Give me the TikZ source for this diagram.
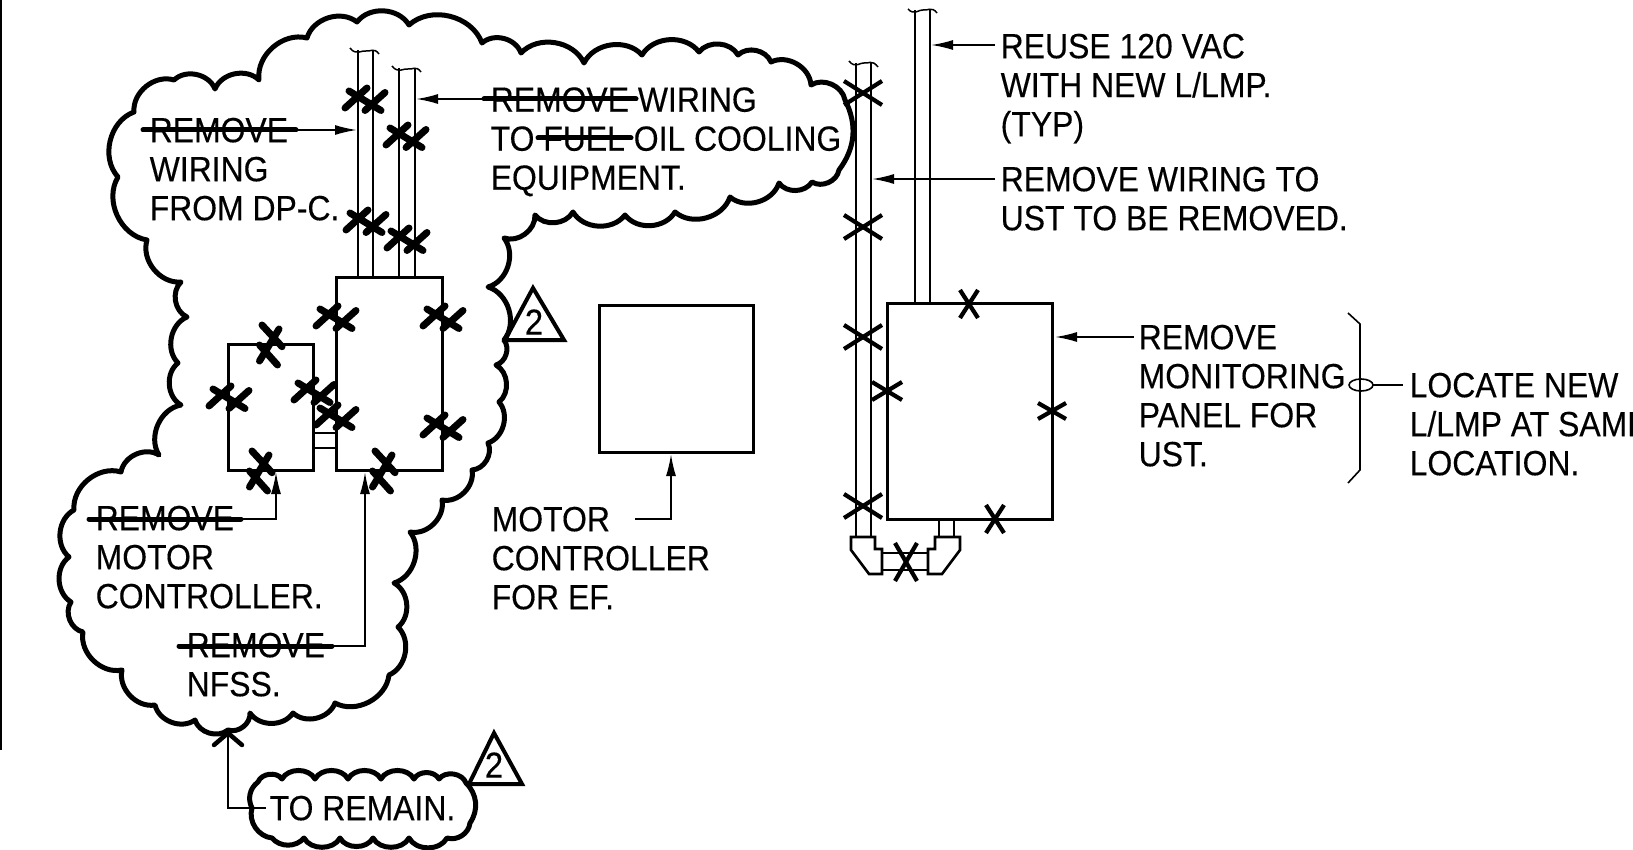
\documentclass[tikz,border=0pt]{standalone}
\usepackage{fontspec}
\setmainfont[FakeStretch=0.912,FakeBold=0.3]{Liberation Sans}
\usetikzlibrary{arrows.meta,calc}
\newcommand{\FL}{\rule{0pt}{26pt}}
% hatched removal mark, shallow form
\newcommand{\hmarkH}[2]{\begin{scope}[shift={(#1,#2)}]
 \draw[hatch] (-19,8)--(3,-12); \draw[hatch] (1,10.5)--(21,-7.5); \draw[hatch] (-15,-9)--(17,10.5);
\end{scope}}
% hatched removal mark, steep form
\newcommand{\hmarkV}[2]{\begin{scope}[shift={(#1,#2)}]
 \draw[hatch] (-8,-19)--(12,2.7); \draw[hatch] (-10.5,1)--(7.5,21); \draw[hatch] (9,-15)--(-10.5,17);
\end{scope}}
% plain X: centre x, y, half-width, half-height
\newcommand{\xmark}[4]{\draw[xstroke] ($(#1,#2)+(-#3,-#4)$)--($(#1,#2)+(#3,#4)$); \draw[xstroke] ($(#1,#2)+(-#3,#4)$)--($(#1,#2)+(#3,-#4)$);}
\tikzset{
 cloud/.style={line width=5pt,line join=round,line cap=round,every to/.style={bend left=56}},
 panel/.style={draw,line width=3pt,minimum width=#1,inner sep=0pt},
 pipe/.style={line width=2.5pt},
 hatch/.style={line width=7pt,line cap=round},
 xstroke/.style={line width=4.2pt},
 strike/.style={line width=5pt,line cap=round},
 arr/.style={line width=1.8pt,-{Latex[length=22pt,width=10pt]}},
 lead/.style={line width=1.8pt},
 txt/.style={anchor=north west,inner sep=0pt,align=left,font=\fontsize{35}{39}\selectfont},
 tri/.style={line width=4pt,line join=miter},
 num/.style={inner sep=0pt,font=\fontsize{36}{36}\selectfont},
}
\begin{document}
\begin{tikzpicture}[x=1pt,y=-1pt]
\useasboundingbox (0,0) rectangle (1633,850);
\fill[white] (0,0) rectangle (1633,850);
\coordinate (frameA) at (1,0); \coordinate (frameB) at (1,750);
\draw[line width=2pt] (frameA)--(frameB);
% big revision cloud
\draw[cloud] (134,112) to (174,80) to (215,89) to (259,80) to (307,38) to (357,22) to (409,25) to (482,43)
 to (521,53) to (584,63) to (642,55) to (699,52) to (738,55) to (771,62) to (811,85) to (845,100) to[bend left=32] (839,170)
 to (812,182) to (779,183) to (730,197) to (675,212) to (625,215) to (573,212) to (535,215) to (504,238)
 to (488,287) to (504,340) to (496,365) to (499,402) to (488,443) to (472,470) to (442,500) to (410,532)
 to (394,583) to (398,627) to (389,675) to (335,703) to (293,713) to (250,713) to (228,730) to (195,720)
 to (155,705) to (122,670) to (83,632) to (71,602) to (69,557) to (74,510) to (121,472) to (159,455)
 to (181,405) to (178,363) to (187,317) to (181,282) to (147,240) to (118,177) to (134,112);
% small cloud
\draw[cloud,every to/.style={bend left=62}] (258,782) to (282,779) to (315,779) to (348,779) to (381,779) to (414,779) to (439,779) to (466,783)
 to[bend left=40] (470,823) to[bend left=50] (447,838) to (409,838) to (373,838) to (340,838) to (304,838) to[bend left=50] (272,838) to[bend left=50] (252,808) to[bend left=40] (258,782);
% left panels
\node[panel=106pt,minimum height=192pt] (bigpanel) at (389,374) {};
\node[panel=85pt,minimum height=126pt] (smallpanel) at (270.5,407) {};
\node[panel=154pt,minimum height=146pt] (efpanel) at (676,379) {};
\node[panel=165pt,minimum height=215pt] (ustpanel) at (969.5,411.5) {};
% links between left panels
\draw[pipe] (313,433)--(336,433) (313,448)--(336,448);
% left pipes
\draw[pipe] (358,50)--(358,278) (373,50)--(373,278) (399,68)--(399,278) (415,68)--(415,278);
\draw[line width=1.5pt] (350,48) .. controls (356,56) and (362,50) .. (366,51) .. controls (370,52) and (374,47) .. (379,54);
\draw[line width=1.5pt] (392,66) .. controls (398,74) and (404,68) .. (408,69) .. controls (412,70) and (416,65) .. (421,72);
% right pipes
\draw[pipe] (915,10)--(915,304) (930,10)--(930,304) (856,63)--(856,537) (871,63)--(871,537) (939,519)--(939,537) (954,519)--(954,537);
\draw[line width=1.5pt] (908,9) .. controls (914,16) and (920,9) .. (923,10) .. controls (927,11) and (932,6) .. (937,13);
\draw[line width=1.5pt] (849,61) .. controls (855,69) and (861,62) .. (864,63) .. controls (868,64) and (872,59) .. (878,67);
% elbows and link
\draw[line width=2.6pt,line join=miter] (851,537)--(875,537)--(875,549)--(882,549)--(882,574)--(869,574)--(851,550)--cycle;
\draw[line width=2.6pt,line join=miter] (960,537)--(960,550)--(942,574)--(928,574)--(928,549)--(935,549)--(935,537)--cycle;
\draw[pipe] (882,553)--(928,553) (882,570)--(928,570);
% hatched marks
\hmarkH{364}{100}\hmarkH{405}{137}\hmarkH{365}{222}\hmarkH{406}{240}
\hmarkH{335}{318}\hmarkH{442}{318}\hmarkH{228}{398}\hmarkH{313}{392}\hmarkH{335}{417}\hmarkH{442}{427}
\hmarkV{270}{344}\hmarkV{260}{470}\hmarkV{383}{470}
% plain marks
\xmark{863}{93}{19}{12}\xmark{863}{227}{19}{12}\xmark{863}{337}{19}{12}\xmark{863}{506}{19}{12}
\xmark{887}{391}{15}{9}\xmark{1052}{411}{14}{8}\xmark{969}{304}{9}{14}\xmark{995}{519}{9}{14}\xmark{906}{562}{11}{19}
% triangles
\draw[tri] (533,288)--(505,340)--(564,340)--cycle; \node[num] (t1) at (534,322) {2};
\draw[tri] (494,733)--(469,784)--(522,784)--cycle; \node[num] (t2) at (494,765) {2};
% texts
\node[txt] (a) at (149.5,116) {\FL REMOVE\\WIRING\\FROM DP-C.};
\node[txt] (b) at (490.5,85.5) {\FL REMOVE WIRING\\TO FUEL OIL COOLING\\EQUIPMENT.};
\node[txt] (c) at (95.5,504) {\FL REMOVE\\MOTOR\\CONTROLLER.};
\node[txt] (d) at (186.5,631) {\FL REMOVE\\NFSS.};
\node[txt] (e) at (491.5,505) {\FL MOTOR\\CONTROLLER\\FOR EF.};
\node[txt] (f) at (269.5,794) {\FL TO REMAIN.};
\node[txt] (g) at (1000.5,32) {\FL REUSE 120 VAC\\WITH NEW L/LMP.\\(TYP)};
\node[txt] (h) at (1000.5,165) {\FL REMOVE WIRING TO\\UST TO BE REMOVED.};
\node[txt] (i) at (1138.5,323) {\FL REMOVE\\MONITORING\\PANEL FOR\\UST.};
\node[txt] (j) at (1409.5,371) {\FL LOCATE NEW\\L/LMP AT SAME\\LOCATION.};
% strikes
\coordinate (s1a) at (143,130); \coordinate (s1b) at (296,130);
\coordinate (s2a) at (484,99); \coordinate (s2b) at (636,99);
\coordinate (s3a) at (538,138); \coordinate (s3b) at (631,138);
\coordinate (s4a) at (89,519); \coordinate (s4b) at (241,519);
\coordinate (s5a) at (179,646); \coordinate (s5b) at (332,646);
\foreach \u/\v in {s1a/s1b,s2a/s2b,s3a/s3b,s4a/s4b,s5a/s5b} \draw[strike] (\u)--(\v);
% leaders
\coordinate (p1) at (357,130); \coordinate (p2) at (416,99);
\draw[arr] (s1b)--(p1); \draw[arr] (s2a)--(p2);
\coordinate (p3) at (276,472); \draw[arr] (s4b)-|(p3);
\coordinate (p4) at (365,472); \draw[arr] (s5b)-|(p4);
\coordinate (p5a) at (635,519); \coordinate (p5) at (671,454); \draw[arr] (p5a)-|(p5);
\coordinate (p6a) at (266,808); \coordinate (p6) at (228,733); \draw[lead] (p6a)-|(p6);
\coordinate (v1) at (214,745); \coordinate (v2) at (242,745);
\draw[line width=4.5pt,line cap=round,line join=round] (v1)--(p6)--(v2);
\coordinate (q1a) at (995,45); \coordinate (q1) at (931,45); \draw[arr] (q1a)--(q1);
\coordinate (q2a) at (995,179); \coordinate (q2) at (872,179); \draw[arr] (q2a)--(q2);
\coordinate (q3a) at (1134,337); \coordinate (q3) at (1055,337); \draw[arr] (q3a)--(q3);
% bracket
\draw[line width=1.6pt] (1348,313)--(1360,324)--(1360,470)--(1348,483);
\draw[line width=1.6pt] (1361,385) ellipse[x radius=12,y radius=6];
\coordinate (o1) at (1373,385); \coordinate (o2) at (1403,385); \draw[lead] (o1)--(o2);
\end{tikzpicture}
\end{document}
